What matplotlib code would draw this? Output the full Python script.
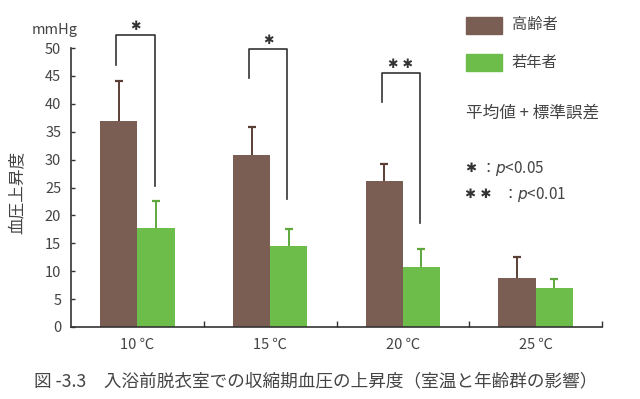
import matplotlib
matplotlib.use("Agg")
import matplotlib.pyplot as plt
import numpy as np
from matplotlib.patches import Rectangle

plt.rcParams['font.family'] = ['Noto Sans CJK JP', 'DejaVu Sans']

categories = ['10 ℃', '15 ℃', '20 ℃', '25 ℃']
elderly = [36.9, 30.8, 26.1, 8.8]
elderly_err = [7.1, 5.0, 3.1, 3.8]
young = [17.8, 14.5, 10.7, 7.0]
young_err = [4.7, 3.1, 3.2, 1.6]
series_names = ['高齢者', '若年者']
yticks = [0, 5, 10, 15, 20, 25, 30, 35, 40, 45, 50]
# significance brackets: (group index, left end, top, right end, label)
sig_groups = [0, 1, 2]
sig_left = [47.0, 44.6, 40.3]
sig_top = [52.4, 49.9, 45.6]
sig_right = [25.2, 22.9, 18.6]
sig_labels = ['✱', '✱', '✱ ✱']

brown = '#7b5e53'
green = '#6dbd4a'
dark = '#333333'
txt = '#444444'
star_fam = ['DejaVu Sans', 'Noto Sans CJK JP']

fig = plt.figure(figsize=(6.4, 3.99), dpi=100)
ax = fig.add_axes([71/640, 1-327/399, (602-71)/640, (327-48)/399])

x = np.arange(len(categories))
w = 0.28
ax.bar(x - w/2, elderly, w, color=brown, edgecolor='none', zorder=2)
ax.bar(x + w/2, young, w, color=green, edgecolor='none', zorder=2)

cap = 0.03
for xs, vals, errs, col in [(x - w/2, elderly, elderly_err, '#5a3f35'),
                            (x + w/2, young, young_err, '#5ea83e')]:
    tops = np.array(vals) + np.array(errs)
    ax.vlines(xs, vals, tops, color=col, lw=1.4, zorder=3)
    ax.hlines(tops, xs - cap, xs + cap, color=col, lw=1.6, zorder=3)

for g, l, t, r, lab in zip(sig_groups, sig_left, sig_top, sig_right, sig_labels):
    xl = g - w/2 - 0.02
    xr = g + w/2 - 0.01
    ax.plot([xl, xl, xr, xr], [l, t, t, r], color=dark, lw=1.2,
            clip_on=False, zorder=4)
    ax.text((xl + xr)/2, t + 1.4, lab, ha='center', va='center',
            fontsize=9, color=dark, clip_on=False, family=star_fam)

ax.set_xlim(-0.5, 3.5)
ax.set_ylim(0, 50)
ax.spines['top'].set_visible(False)
ax.spines['right'].set_visible(False)
for s in ['left', 'bottom']:
    ax.spines[s].set_color(dark)
    ax.spines[s].set_linewidth(1.2)
ax.set_yticks(yticks)
ax.set_yticklabels([str(v) for v in yticks], fontsize=10.5, color=txt)
ax.tick_params(axis='y', direction='in', length=3, width=1, colors=dark,
               labelcolor=txt, pad=7)
ax.set_xticks(x)
ax.set_xticklabels(categories, fontsize=10.5, color=txt)
ax.tick_params(axis='x', which='major', length=0, pad=8)
ax.set_xticks([0.5, 1.5, 2.5, 3.5], minor=True)
ax.tick_params(axis='x', which='minor', direction='in', length=4, width=1,
               colors=dark)

fig.text(32/640, 1-30/399, 'mmHg', fontsize=10.5, color=txt,
         ha='left', va='center')
fig.text(18/640, 1-192/399, '血圧上昇度', rotation=90, fontsize=12,
         color=txt, ha='center', va='center')

# legend
fig.add_artist(Rectangle((466/640, 1-34/399), 36/640, 17/399,
                         transform=fig.transFigure, color=brown))
fig.add_artist(Rectangle((466/640, 1-71/399), 36/640, 17/399,
                         transform=fig.transFigure, color=green))
fig.text(512/640, 1-25/399, series_names[0], fontsize=11, color=txt,
         va='center')
fig.text(512/640, 1-62/399, series_names[1], fontsize=11, color=txt,
         va='center')
fig.text(466/640, 1-113/399, '平均値 + 標準誤差', fontsize=12, color=txt,
         va='center')
fig.text(465/640, 1-168/399, '✱', fontsize=9.5, color=dark, va='center',
         family=star_fam)
fig.text(465/640, 1-194/399, '✱ ✱', fontsize=9.5, color=dark, va='center',
         family=star_fam)
fig.text(480/640, 1-168/399, '：$\\it{p}$<0.05', fontsize=11,
         color=txt, va='center')
fig.text(502/640, 1-194/399, '：$\\it{p}$<0.01', fontsize=11,
         color=txt, va='center')

fig.text(34/640, 1-381/399,
         '図 -3.3　入浴前脱衣室での収縮期血圧の上昇度（室温と年齢群の影響）',
         fontsize=12.7, color=txt, va='center')

fig.savefig('out.png', dpi=100)
